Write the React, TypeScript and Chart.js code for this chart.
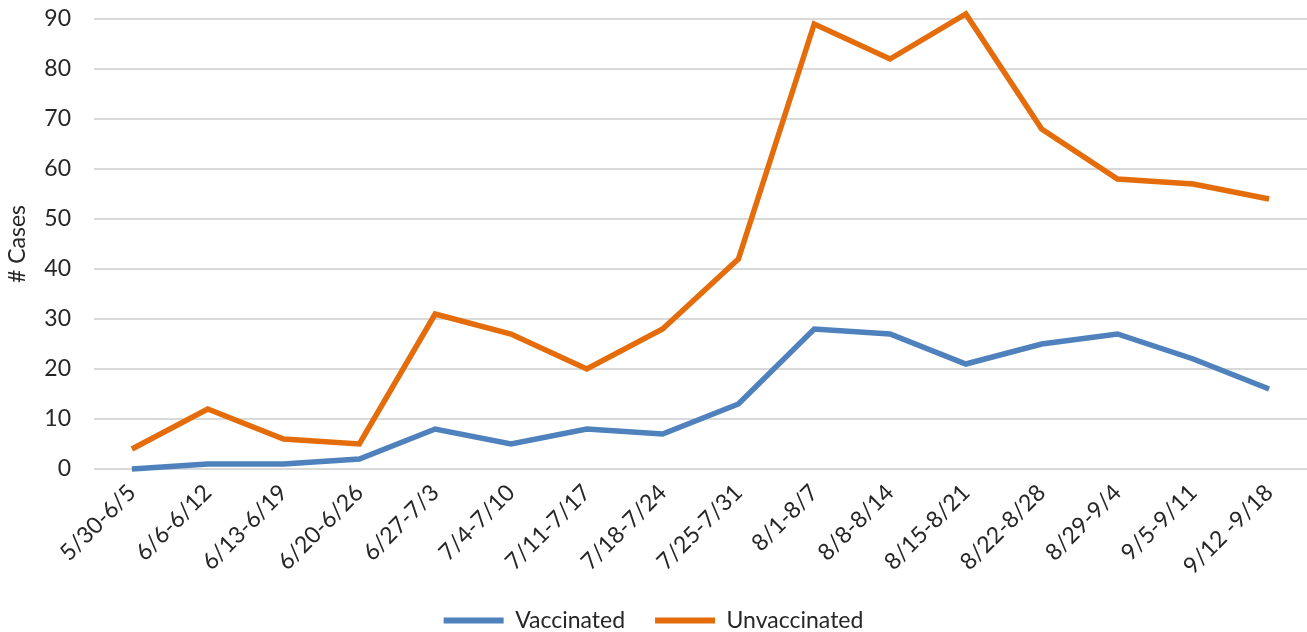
import React, { useEffect, useRef } from "react";
import { Chart, registerables } from "chart.js";

Chart.register(...registerables);

const categories = [
  "5/30-6/5", "6/6-6/12", "6/13-6/19", "6/20-6/26", "6/27-7/3", "7/4-7/10",
  "7/11-7/17", "7/18-7/24", "7/25-7/31", "8/1-8/7", "8/8-8/14", "8/15-8/21",
  "8/22-8/28", "8/29-9/4", "9/5-9/11", "9/12 -9/18",
];
const vaccinated = [0, 1, 1, 2, 8, 5, 8, 7, 13, 28, 27, 21, 25, 27, 22, 16];
const unvaccinated = [4, 12, 6, 5, 31, 27, 20, 28, 42, 89, 82, 91, 68, 58, 57, 54];
const yTicks = [0, 10, 20, 30, 40, 50, 60, 70, 80, 90];

const BLUE = "#4F81BD";
const ORANGE = "#E46C0A";
const TEXT = "#262626";
const FONT = "Lato";
const FS = 23;

export default function App() {
  const ref = useRef<HTMLCanvasElement | null>(null);
  useEffect(() => {
    if (!ref.current) return;
    const chart = new Chart(ref.current, {
      type: "line",
      data: {
        labels: categories,
        datasets: [
          {
            label: "Vaccinated",
            data: vaccinated,
            borderColor: BLUE,
            backgroundColor: BLUE,
            borderWidth: 5.5,
            pointRadius: 0,
            tension: 0,
            clip: false,
          },
          {
            label: "Unvaccinated",
            data: unvaccinated,
            borderColor: ORANGE,
            backgroundColor: ORANGE,
            borderWidth: 5.5,
            pointRadius: 0,
            tension: 0,
            clip: false,
          },
        ],
      },
      options: {
        animation: false,
        responsive: true,
        maintainAspectRatio: false,
        layout: { padding: { top: 19, left: 0, right: 0, bottom: -10 } },
        plugins: {
          tooltip: { enabled: false },
          legend: {
            position: "bottom",
            labels: {
              boxWidth: 60,
              boxHeight: 6,
              padding: 30,
              color: TEXT,
              font: { family: FONT, size: FS },
              generateLabels: (c: any) =>
                Chart.defaults.plugins.legend.labels
                  .generateLabels(c)
                  .map((it: any) => ({ ...it, lineWidth: 0 })),
            },
          },
        },
        scales: {
          x: {
            offset: true,
            grid: { display: false },
            border: { display: false },
            ticks: {
              color: TEXT,
              font: { family: FONT, size: FS },
              maxRotation: 45,
              minRotation: 45,
              padding: 2,
              autoSkip: false,
            },
            afterFit: (s: any) => {
              s.height = 110;
            },
          },
          y: {
            min: 0,
            max: 90,
            afterBuildTicks: (s: any) => {
              s.ticks = yTicks.map((v) => ({ value: v }));
            },
            grid: { color: "#D9D9D9", lineWidth: 2, drawTicks: false },
            border: { display: false },
            ticks: {
              color: TEXT,
              font: { family: FONT, size: FS },
              padding: 23,
            },
            title: {
              display: true,
              text: "# Cases",
              color: TEXT,
              font: { family: FONT, size: FS },
              padding: { top: 4, bottom: 0 },
            },
            afterFit: (s: any) => {
              s.width = 94;
              s.paddingTop = 0;
              s.paddingBottom = 0;
            },
          },
        },
      },
    });
    return () => chart.destroy();
  }, []);
  return (
    <div style={{ position: "fixed", left: 0, top: 0, width: 1307, height: 632, background: "#fff" }}>
      <canvas ref={ref} />
    </div>
  );
}
